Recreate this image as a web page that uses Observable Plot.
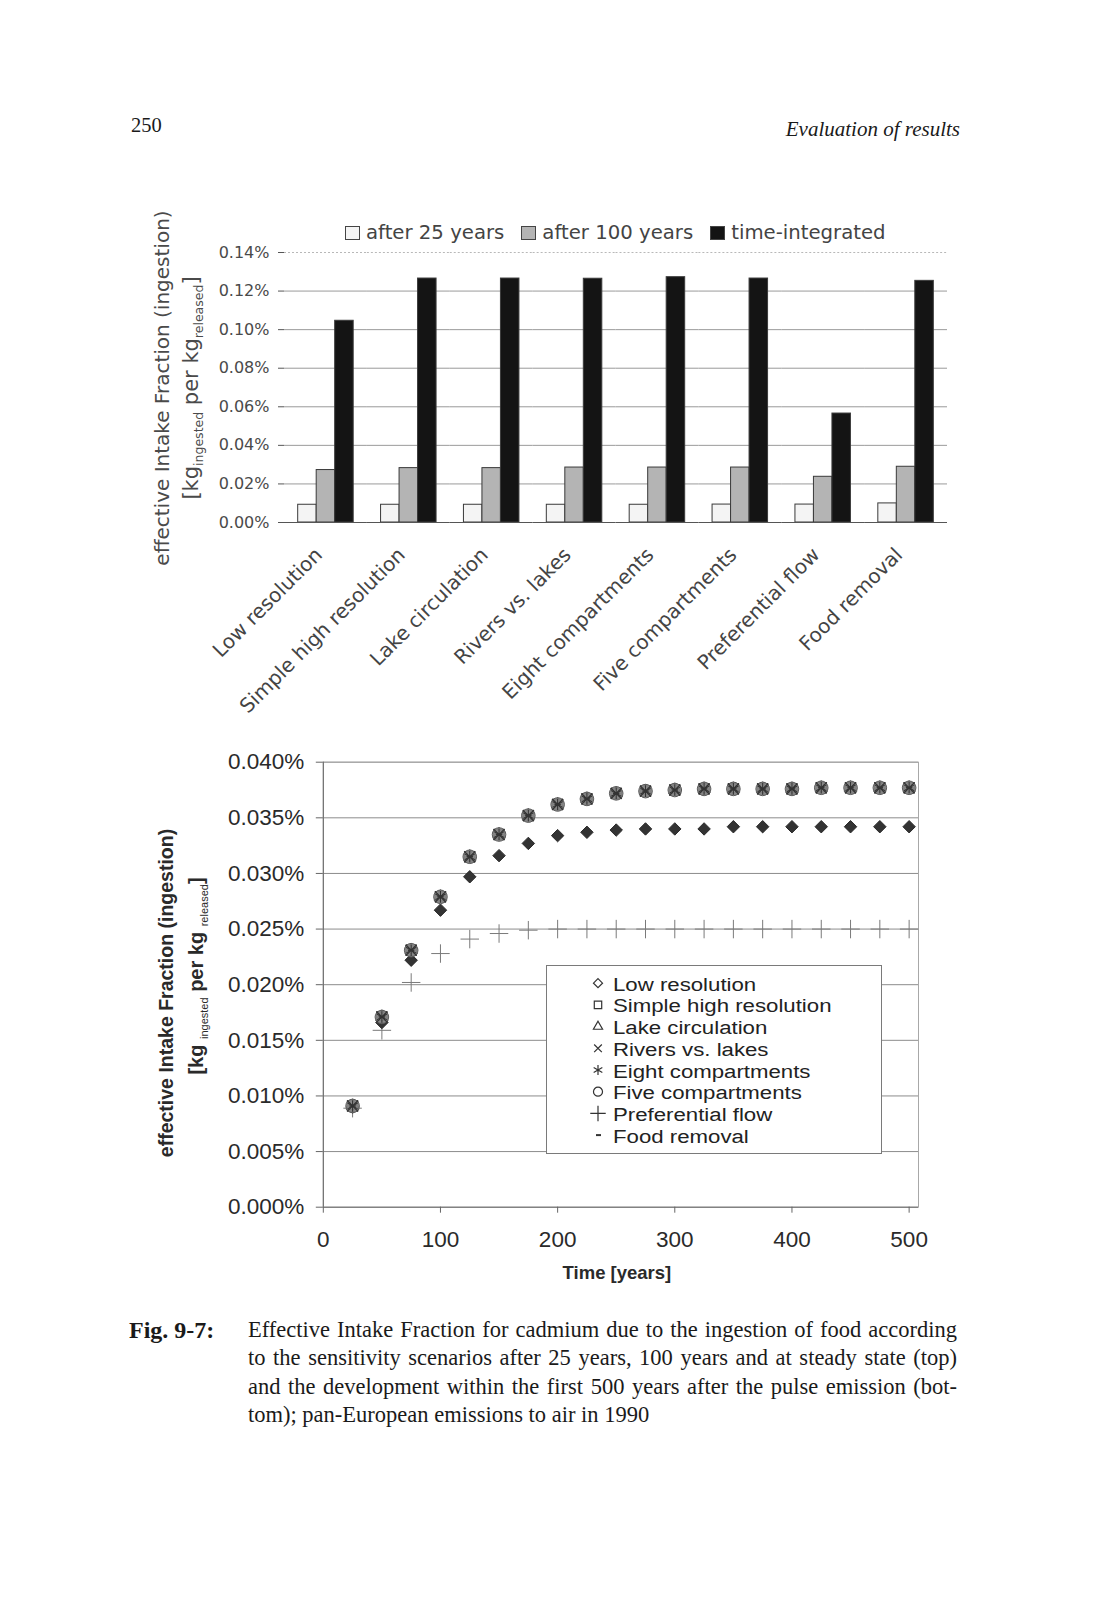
<!DOCTYPE html>
<html><head><meta charset="utf-8">
<script src="https://cdn.jsdelivr.net/npm/d3@7"></script>
<script src="https://cdn.jsdelivr.net/npm/@observablehq/plot@0.6"></script>
<style>
html,body{margin:0;padding:0;background:#fff;}
#page{position:relative;width:1095px;height:1601px;background:#fff;overflow:hidden;}
.abs{position:absolute;white-space:nowrap;}
.cap{position:absolute;left:248px;width:709px;font-family:'Liberation Serif',serif;font-size:22.5px;line-height:28px;color:#1a1a1a;text-align:justify;text-align-last:justify;}
</style></head><body><div id="page"></div>
<script>
// ---------- top chart data ----------
const categories = ["Low resolution","Simple high resolution","Lake circulation","Rivers vs. lakes","Eight compartments","Five compartments","Preferential flow","Food removal"];
const barSeries = ["after 25 years","after 100 years","time-integrated"];
const after25 = [0.0092,0.0092,0.0092,0.0092,0.0092,0.0093,0.0093,0.0099];
const after100 = [0.0272,0.0282,0.0282,0.0285,0.0285,0.0285,0.0237,0.0289];
const timeIntegrated = [0.1046,0.1265,0.1265,0.1264,0.1272,0.1265,0.0565,0.1253];
const barColors = ["#f4f4f4","#b4b4b4","#141414"];
const yTicksTop = [0,0.02,0.04,0.06,0.08,0.10,0.12,0.14];

// ---------- bottom chart data ----------
const years = [25,50,75,100,125,150,175,200,225,250,275,300,325,350,375,400,425,450,475,500];
const lowResolution = [0.0090,0.0166,0.0222,0.0267,0.0297,0.0316,0.0327,0.0334,0.0337,0.0339,0.0340,0.0340,0.0340,0.0342,0.0342,0.0342,0.0342,0.0342,0.0342,0.0342];
const mainGroup = [0.0091,0.0171,0.0231,0.0279,0.0315,0.0335,0.0352,0.0362,0.0367,0.0372,0.0374,0.0375,0.0376,0.0376,0.0376,0.0376,0.0377,0.0377,0.0377,0.0377];
const preferentialFlow = [0.0089,0.0159,0.0202,0.0228,0.0241,0.0246,0.0249,0.0250,0.0250,0.0250,0.0250,0.0250,0.0250,0.0250,0.0250,0.0250,0.0250,0.0250,0.0250,0.0250];
const lineSeries = ["Low resolution","Simple high resolution","Lake circulation","Rivers vs. lakes","Eight compartments","Five compartments","Preferential flow","Food removal"];
const seriesValues = [lowResolution, mainGroup, mainGroup, mainGroup, mainGroup, mainGroup, preferentialFlow, mainGroup];
const yTicksBottom = [0,0.005,0.010,0.015,0.020,0.025,0.030,0.035,0.040];
const xTicksBottom = [0,100,200,300,400,500];
const xMaxBottom = 508;

const page = document.getElementById("page");
function addDiv(html, style, cls){ const d=document.createElement("div"); d.className=cls||"abs"; d.innerHTML=html; Object.assign(d.style, style); page.appendChild(d); return d; }

// ---------- header ----------
addDiv("250",{left:"131px",top:"115px",fontFamily:"'Liberation Serif',serif",fontSize:"20.5px",lineHeight:"20px",color:"#1a1a1a"});
addDiv("Evaluation of results",{right:"135px",top:"119px",fontFamily:"'Liberation Serif',serif",fontStyle:"italic",fontSize:"21px",lineHeight:"20px",color:"#1a1a1a"});

// ---------- top chart ----------
const barData = categories.flatMap((c,i)=>[
  {category:c, series:barSeries[0], value:after25[i]},
  {category:c, series:barSeries[1], value:after100[i]},
  {category:c, series:barSeries[2], value:timeIntegrated[i]}
]);
const topW = 1095, topMarginLeft = 284, topMarginRight = 148;
const bw = (topW - topMarginLeft - topMarginRight) / categories.length;
const first = [categories[0]], last = [categories[categories.length-1]];
const topChart = Plot.plot({
  width: topW, height: 535,
  marginLeft: topMarginLeft, marginRight: topMarginRight, marginTop: 52, marginBottom: 213,
  style: {fontFamily: "'DejaVu Sans', sans-serif", fontSize: "16px", color: "#4a4a4a", background: "transparent"},
  fx: {domain: categories, padding: 0, round: false, axis: null, label: null},
  x: {domain: barSeries, paddingInner: 0, paddingOuter: 0.74, round: false, axis: null},
  y: {domain: [0, 0.14], axis: null},
  color: {domain: barSeries, range: barColors},
  marks: [
    Plot.gridY(yTicksTop.slice(1, -1), {stroke: "#9a9a9a", strokeOpacity: 1, strokeWidth: 1}),
    Plot.ruleY([0.14], {stroke: "#b8b8b8", strokeDasharray: "2,2"}),
    Plot.ruleX(last, {fx: d => d, y1: 0, y2: 0.14, dx: bw/2, stroke: "#c4c4c4"}),
    Plot.barY(barData, {fx: "category", x: "series", y: "value", fill: "series", stroke: "#3a3a3a", strokeWidth: 1}),
    Plot.ruleY([0], {stroke: "#555"}),
    Plot.ruleX(first, {fx: d => d, y1: 0, y2: 0.14, dx: -bw/2, stroke: "#555"}),
    Plot.ruleX(categories, {fx: d => d, y1: 0, y2: 0, insetBottom: -6, dx: -bw/2, stroke: "#555"}),
    Plot.ruleX(last, {fx: d => d, y1: 0, y2: 0, insetBottom: -6, dx: bw/2, stroke: "#555"}),
    Plot.axisY(yTicksTop, {tickSize: 6, tickPadding: 9, tickFormat: d => d.toFixed(2) + "%", label: null, stroke: "#555", fill: "#4a4a4a", fontSize: 16}),
    Plot.text(categories, {fx: d => d, text: d => d, frameAnchor: "bottom", rotate: -45, textAnchor: "end", lineAnchor: "middle", dx: -7, dy: 29, fontSize: 20, fill: "#444"})
  ]
});
Object.assign(topChart.style, {position: "absolute", left: "0px", top: "200px"});
page.appendChild(topChart);

function addYTitle(svg, x1, x2, cy, opts) {
  const s = d3.select(svg);
  s.append("text")
    .attr("transform", `translate(${x1},${cy + (opts.offset1 || 0)}) rotate(-90)`)
    .attr("text-anchor", "middle").attr("dy", "0.35em")
    .attr("font-family", opts.family).attr("font-size", opts.size)
    .attr("font-weight", opts.weight).attr("fill", opts.color)
    .text("effective Intake Fraction (ingestion)");
  const t = s.append("text")
    .attr("transform", `translate(${x2},${cy + (opts.offset2 || 0)}) rotate(-90)`)
    .attr("text-anchor", "middle").attr("dy", "0.35em")
    .attr("font-family", opts.family).attr("font-size", opts.size2)
    .attr("font-weight", opts.weight).attr("fill", opts.color);
  t.append("tspan").text("[kg" + opts.gap);
  t.append("tspan").attr("font-size", opts.sub).attr("font-weight", opts.subWeight).attr("dy", opts.shift).text("ingested");
  t.append("tspan").attr("dy", -opts.shift).text(" per kg" + opts.gap);
  t.append("tspan").attr("font-size", opts.sub).attr("font-weight", opts.subWeight).attr("dy", opts.shift).text("released");
  t.append("tspan").attr("dy", -opts.shift).text("]");
}
addYTitle(topChart, 162, 191, 188, {family: "'DejaVu Sans', sans-serif", size: 20, size2: 21, weight: "normal", color: "#4a4a4a", sub: 12.5, subWeight: "normal", shift: 4.5, gap: ""});

// top legend
const legTop = addDiv("", {left: "345px", top: "222px", display: "flex", alignItems: "center", fontFamily: "'DejaVu Sans', sans-serif", fontSize: "19.7px", lineHeight: "21px", color: "#444"});
barSeries.forEach((s, i) => {
  const sw = document.createElement("span");
  Object.assign(sw.style, {display: "inline-block", width: "13px", height: "12px", border: "1px solid #444", background: barColors[i], marginRight: "6px"});
  const tx = document.createElement("span");
  tx.textContent = s;
  tx.style.marginRight = "17px";
  legTop.appendChild(sw); legTop.appendChild(tx);
});

// ---------- bottom chart ----------
const dotData = lineSeries.flatMap((s, k) => years.map((yr, i) => ({series: s, year: yr, value: seriesValues[k][i]})));
const bySeries = s => dotData.filter(d => d.series === s);
const dashSymbol = {draw(ctx, size) { const w = Math.sqrt(size) * 0.45; ctx.moveTo(-w, 0); ctx.lineTo(w, 0); }};
const bottomChart = Plot.plot({
  width: 1095, height: 560,
  marginLeft: 322.8, marginRight: 177, marginTop: 21.7, marginBottom: 93.3,
  style: {fontFamily: "'Liberation Sans', Arial, sans-serif", fontSize: "22px", color: "#2a2a2a", background: "transparent"},
  x: {domain: [0, xMaxBottom], axis: null},
  y: {domain: [0, 0.04], axis: null},
  marks: [
    Plot.gridY(yTicksBottom.slice(1), {stroke: "#8c8c8c", strokeOpacity: 1}),
    Plot.frame({stroke: "#a8a8a8"}),
    Plot.ruleX([0], {stroke: "#666"}),
    Plot.ruleY([0], {stroke: "#666"}),
    Plot.axisY(yTicksBottom, {tickSize: 7, tickPadding: 12, tickFormat: d => d.toFixed(3) + "%", label: null, stroke: "#666", fill: "#2a2a2a", fontSize: 22.5}),
    Plot.axisX(xTicksBottom, {tickSize: 6, tickPadding: 18, tickFormat: d => String(d), label: null, stroke: "#666", fill: "#2a2a2a", fontSize: 22.5}),
    Plot.text(["Time [years]"], {frameAnchor: "bottom", dy: 66, lineAnchor: "middle", fontWeight: "bold", fontSize: 18.5, fill: "#2a2a2a", dx: -4}),
    Plot.dot(bySeries("Preferential flow"), {x: "year", y: "value", symbol: "plus", r: 6, fill: "none", stroke: "#7a7a7a", strokeWidth: 1}),
    Plot.dot(bySeries("Low resolution"), {x: "year", y: "value", symbol: "diamond2", r: 5.6, fill: "#333", stroke: "#2a2a2a", strokeWidth: 1}),
    Plot.dot(bySeries("Simple high resolution"), {x: "year", y: "value", symbol: "square", r: 6, fill: "#9a9a9a", stroke: "#333", strokeWidth: 1}),
    Plot.dot(bySeries("Lake circulation"), {x: "year", y: "value", symbol: "triangle", r: 4.6, fill: "#a8a8a8", stroke: "#444", strokeWidth: 1}),
    Plot.dot(bySeries("Five compartments"), {x: "year", y: "value", symbol: "circle", r: 6.8, fill: "#8a8a8a", fillOpacity: 0.85, stroke: "#5a5a5a", strokeWidth: 1}),
    Plot.dot(bySeries("Rivers vs. lakes"), {x: "year", y: "value", symbol: "times", r: 5, fill: "none", stroke: "#333", strokeWidth: 1.3}),
    Plot.dot(bySeries("Eight compartments"), {x: "year", y: "value", symbol: "asterisk", r: 5.5, fill: "none", stroke: "#333", strokeWidth: 1.1}),
    Plot.dot(bySeries("Food removal"), {x: "year", y: "value", symbol: dashSymbol, r: 4, fill: "none", stroke: "#333", strokeWidth: 1.5})
  ]
});
Object.assign(bottomChart.style, {position: "absolute", left: "0px", top: "740px"});
page.appendChild(bottomChart);
addYTitle(bottomChart, 166.5, 196, 244, {family: "'Liberation Sans', Arial, sans-serif", size: 19.5, size2: 20, weight: "bold", color: "#2a2a2a", sub: 11, subWeight: "normal", shift: 4.5, gap: " ", offset1: 9, offset2: -8});

// bottom legend
const legSvg = d3.create("svg").attr("width", 337).attr("height", 190)
  .style("position", "absolute").style("left", "546px").style("top", "965px");
legSvg.append("rect").attr("x", 0.5).attr("y", 0.5).attr("width", 335).attr("height", 188).attr("fill", "#fff").attr("stroke", "#7a7a7a");
const legSymbols = [
  d3.symbol(d3.symbolDiamond2, 52)(),
  d3.symbol(d3.symbolSquare2, 70)(),
  d3.symbol(d3.symbolTriangle2, 60)(),
  d3.symbol(d3.symbolX, 40)(),
  d3.symbol(d3.symbolAsterisk, 70)(),
  d3.symbol(d3.symbolCircle, 64)(),
  d3.symbol(d3.symbolPlus, 80)(),
  "M-2,0H3"
];
lineSeries.forEach((s, i) => {
  const by = 25.7 + i * 21.7;
  legSvg.append("path").attr("d", legSymbols[i]).attr("transform", `translate(52,${by - 7.5})`)
    .attr("fill", "none").attr("stroke", "#333").attr("stroke-width", i === 7 ? 2 : 1.2);
  legSvg.append("text").attr("transform", `translate(67,${by}) scale(1.17,1)`)
    .attr("font-family", "'Liberation Sans', Arial, sans-serif")
    .attr("font-size", 19).attr("fill", "#222").text(s);
});
page.appendChild(legSvg.node());

// ---------- caption ----------
addDiv("Fig. 9-7:", {left: "129px", top: "1316px", fontFamily: "'Liberation Serif',serif", fontWeight: "bold", fontSize: "24px", lineHeight: "28px", color: "#1a1a1a"});
const capLines = [
  "Effective Intake Fraction for cadmium due to the ingestion of food according",
  "to the sensitivity scenarios after 25 years, 100 years and at steady state (top)",
  "and the development within the first 500 years after the pulse emission (bot-",
  "tom); pan-European emissions to air in 1990"
];
capLines.forEach((l, i) => {
  const d = addDiv("", {top: (1316 + i * 28.4) + "px"}, "cap");
  d.textContent = l;
  if (i === capLines.length - 1) d.style.textAlignLast = "left";
});
</script></body></html>
